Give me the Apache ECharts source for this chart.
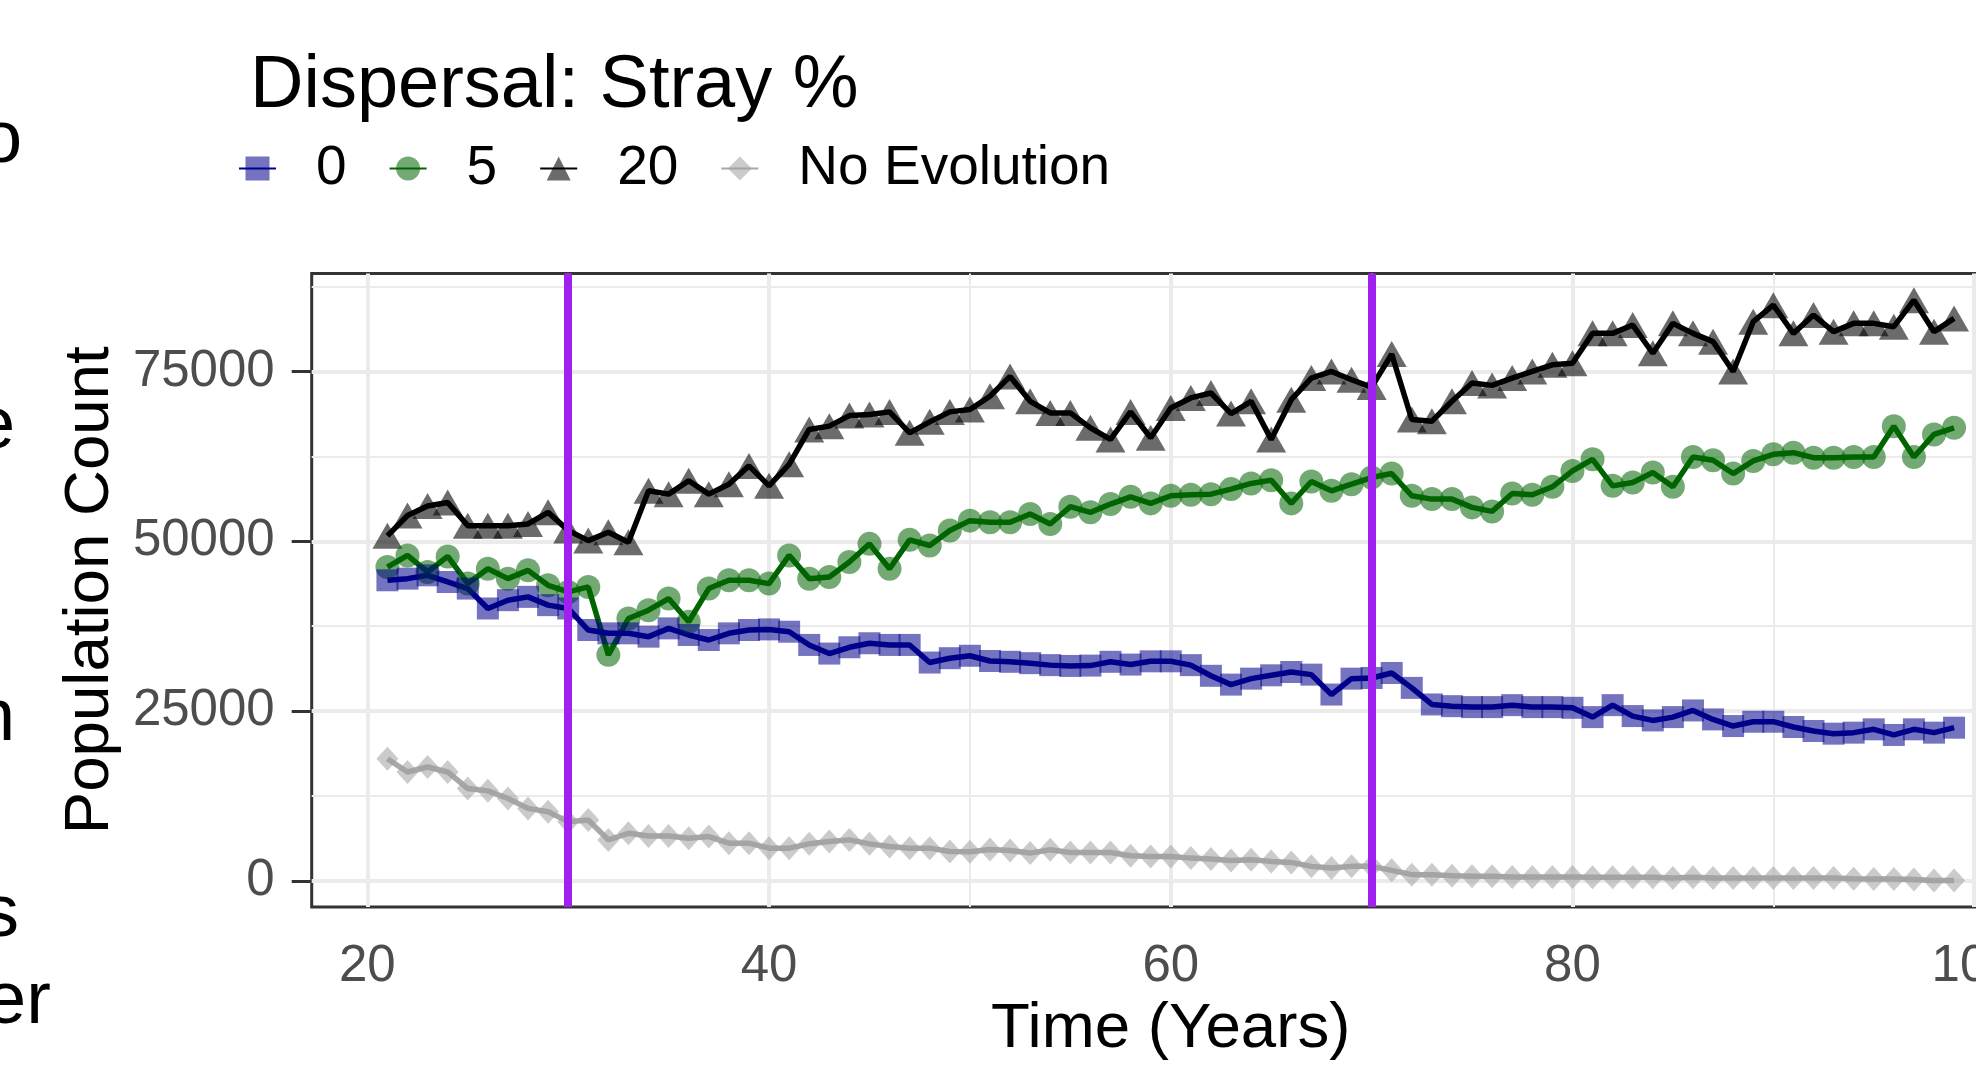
<!DOCTYPE html>
<html><head><meta charset="utf-8">
<script src="https://cdn.jsdelivr.net/npm/echarts@6/dist/echarts.min.js"></script>
<style>
html,body{margin:0;padding:0;background:#fff;overflow:hidden;width:1976px;height:1066px}
#c{width:2100px;height:1066px}
</style>
</head><body><div id="c"></div>
<script>
// ---- data ----
const years = [21,22,23,24,25,26,27,28,29,30,31,32,33,34,35,36,37,38,39,40,41,42,43,44,45,46,47,48,49,50,51,52,53,54,55,56,57,58,59,60,61,62,63,64,65,66,67,68,69,70,71,72,73,74,75,76,77,78,79,80,81,82,83,84,85,86,87,88,89,90,91,92,93,94,95,96,97,98,99];
const stray0 = [44260,44500,44990,44010,43040,40110,41330,41820,40600,40110,36940,36450,36450,35960,37180,36210,35470,36450,36940,37030,36690,34740,33470,34400,34990,34740,34740,32150,32790,33150,32380,32260,32060,31770,31650,31700,32260,31850,32330,32330,31770,30200,28900,29780,30270,30760,30370,27440,29780,29880,30610,28420,25980,25730,25590,25590,25880,25590,25590,25490,24120,25880,24270,23630,24120,25100,23780,22800,23440,23440,22660,22070,21680,21830,22320,21490,22320,21830,22560];
const stray5 = [46210,47920,45480,47770,43800,45960,44500,45720,43520,42550,43280,33280,38640,39860,41570,38160,43040,44260,44260,43770,47920,44500,44740,46940,49620,45960,50210,49380,51580,53040,52800,52800,54020,52550,55090,54260,55480,56550,55580,56700,56850,56940,57680,58510,59000,55580,58800,57430,58400,59380,59970,56700,56210,56210,54990,54400,57040,56850,58020,60360,62070,58160,58650,60120,58020,62410,61920,59970,61830,62800,63040,62310,62310,62410,62410,66950,62410,65730,66710];
const stray20 = [50800,53800,55200,55700,52300,52300,52300,52550,54260,51600,50100,51330,49870,57430,56940,58900,56940,58400,61100,58160,61340,66460,66950,68500,68660,69050,65970,67580,69050,69390,71340,74270,70610,68900,68900,66700,65000,69050,65240,69630,71100,71830,68800,70610,65000,70850,74020,75000,73780,72700,77560,67920,67680,70610,73290,72950,74020,75000,75980,76220,80610,80610,81830,77680,82080,80610,79390,75000,82320,84760,80610,83300,80860,82080,82080,81590,85490,80860,82810];
const noEvolution = [17990,16040,16770,16040,13600,13260,12140,10680,10190,8730,8970,6045,7020,6630,6630,6290,6530,5560,5560,4830,4830,5460,5800,6045,5460,5070,4830,4830,4340,4300,4630,4485,4100,4580,4190,4190,4190,3700,3600,3600,3360,3220,3020,3120,2880,2730,2145,1900,2145,2145,1560,925,925,780,680,680,585,585,585,585,535,535,535,535,440,535,440,440,440,440,440,440,440,340,290,290,195,50,50];
const seriesNames = ['0','5','20','No Evolution'];
const xTicks = [20,40,60,80,100];
const xMinor = [30,50,70,90];
const yTicks = [0,25000,50000,75000];
const yMinor = [12500,37500,62500,87500];
const eventYears = [30,70];

// ---- chart ----
const FONT = 'Liberation Sans, Arial, sans-serif';
const pair = arr => years.map((y,i)=>[y,arr[i]]);
const chart = echarts.init(document.getElementById('c'), null, {renderer:'canvas'});

function gridLines(){
  const d = [];
  yMinor.forEach(v=>d.push({yAxis:v, lineStyle:{width:2,color:'#EBEBEB',type:'solid'}}));
  xMinor.forEach(v=>d.push({xAxis:v, lineStyle:{width:2,color:'#EBEBEB',type:'solid'}}));
  yTicks.forEach(v=>d.push({yAxis:v, lineStyle:{width:4,color:'#EBEBEB',type:'solid'}}));
  xTicks.forEach(v=>d.push({xAxis:v, lineStyle:{width:4,color:'#EBEBEB',type:'solid'}}));
  return d;
}
const ml = (data, z)=>({silent:true, z, symbol:['none','none'], label:{show:false}, emphasis:{disabled:true}, animation:false, lineStyle:{type:'solid'}, data});

function lineSeries(name, arr, lineColor, symbol, size, pointColor, lw){
  return {
    name, type:'line', data:pair(arr), symbol, symbolSize:size, showSymbol:true,
    lineStyle:{color:lineColor, width:lw},
    itemStyle:{color:pointColor, borderWidth:0},
    emphasis:{disabled:true}, z:3, animation:false, clip:true
  };
}

const option = {
  backgroundColor:'#fff',
  animation:false,
  textStyle:{fontFamily:FONT},
  grid:{left:311.7, right:70.2, top:273.5, bottom:155, show:true, borderColor:'#333333', borderWidth:3, backgroundColor:'#fff', containLabel:false},
  xAxis:{
    type:'value', min:17.23, max:102.77,
    name:'Time (Years)', nameLocation:'middle', nameGap:89,
    nameTextStyle:{fontSize:63.6, color:'#000', fontFamily:FONT},
    axisLine:{show:false},
    axisTick:{show:true, length:19, lineStyle:{color:'#333333', width:3}, customValues:xTicks},
    axisLabel:{fontSize:51, color:'#4D4D4D', margin:34, fontFamily:FONT, customValues:xTicks, formatter:v=>String(v)},
    splitLine:{show:false}
  },
  yAxis:{
    type:'value', min:-3850, max:89420,
    name:'Population Count', nameLocation:'middle', nameGap:172, nameRotate:90,
    nameTextStyle:{fontSize:63.6, color:'#000', fontFamily:FONT},
    axisLine:{show:false},
    axisTick:{show:true, length:20, lineStyle:{color:'#333333', width:3}, customValues:yTicks},
    axisLabel:{fontSize:51, color:'#4D4D4D', margin:37, fontFamily:FONT, customValues:yTicks, formatter:v=>String(v), padding:[6,0,0,0]},
    splitLine:{show:false}
  },
  legend:{
    data:seriesNames, orient:'horizontal', left:238, top:141, padding:0,
    itemWidth:37, itemHeight:30, itemGap:42,
    textStyle:{fontSize:55, color:'#000', fontFamily:FONT, padding:[0,0,0,35]},
    selectedMode:false
  },
  graphic:[
    {type:'text', left:250, top:50, style:{text:'Dispersal: Stray %', font:'74px '+FONT, fill:'#000'}},
    {type:'text', x:-19, y:142, style:{text:'o', font:'74px '+FONT, fill:'#000', verticalAlign:'middle'}},
    {type:'text', x:-26, y:428, style:{text:'e', font:'74px '+FONT, fill:'#000', verticalAlign:'middle'}},
    {type:'text', x:-26, y:720, style:{text:'n', font:'74px '+FONT, fill:'#000', verticalAlign:'middle'}},
    {type:'text', x:-18, y:916, style:{text:'s', font:'74px '+FONT, fill:'#000', verticalAlign:'middle'}},
    {type:'text', x:-15, y:1003, style:{text:'er', font:'74px '+FONT, fill:'#000', verticalAlign:'middle'}}
  ],
  series:[
    {name:'grid', type:'line', data:[], z:1, silent:true, markLine:ml(gridLines(), 1)},
    lineSeries('No Evolution', noEvolution, '#A8A8A8', 'diamond', [22,24], 'rgba(160,160,160,0.55)', 5.5),
    lineSeries('20', stray20, '#000000', 'triangle', [30,26], 'rgba(0,0,0,0.58)', 5.5),
    lineSeries('5', stray5, '#006400', 'circle', 24, 'rgba(0,100,0,0.55)', 5.5),
    lineSeries('0', stray0, '#00008B', 'rect', 22, 'rgba(0,0,139,0.55)', 5.5),
    {name:'events', type:'line', data:[], z:10, silent:true,
     markLine:ml(eventYears.map(v=>({xAxis:v, lineStyle:{width:8,color:'#A020F0',type:'solid'}})), 10)}
  ]
};
chart.setOption(option);
</script>
</body></html>
